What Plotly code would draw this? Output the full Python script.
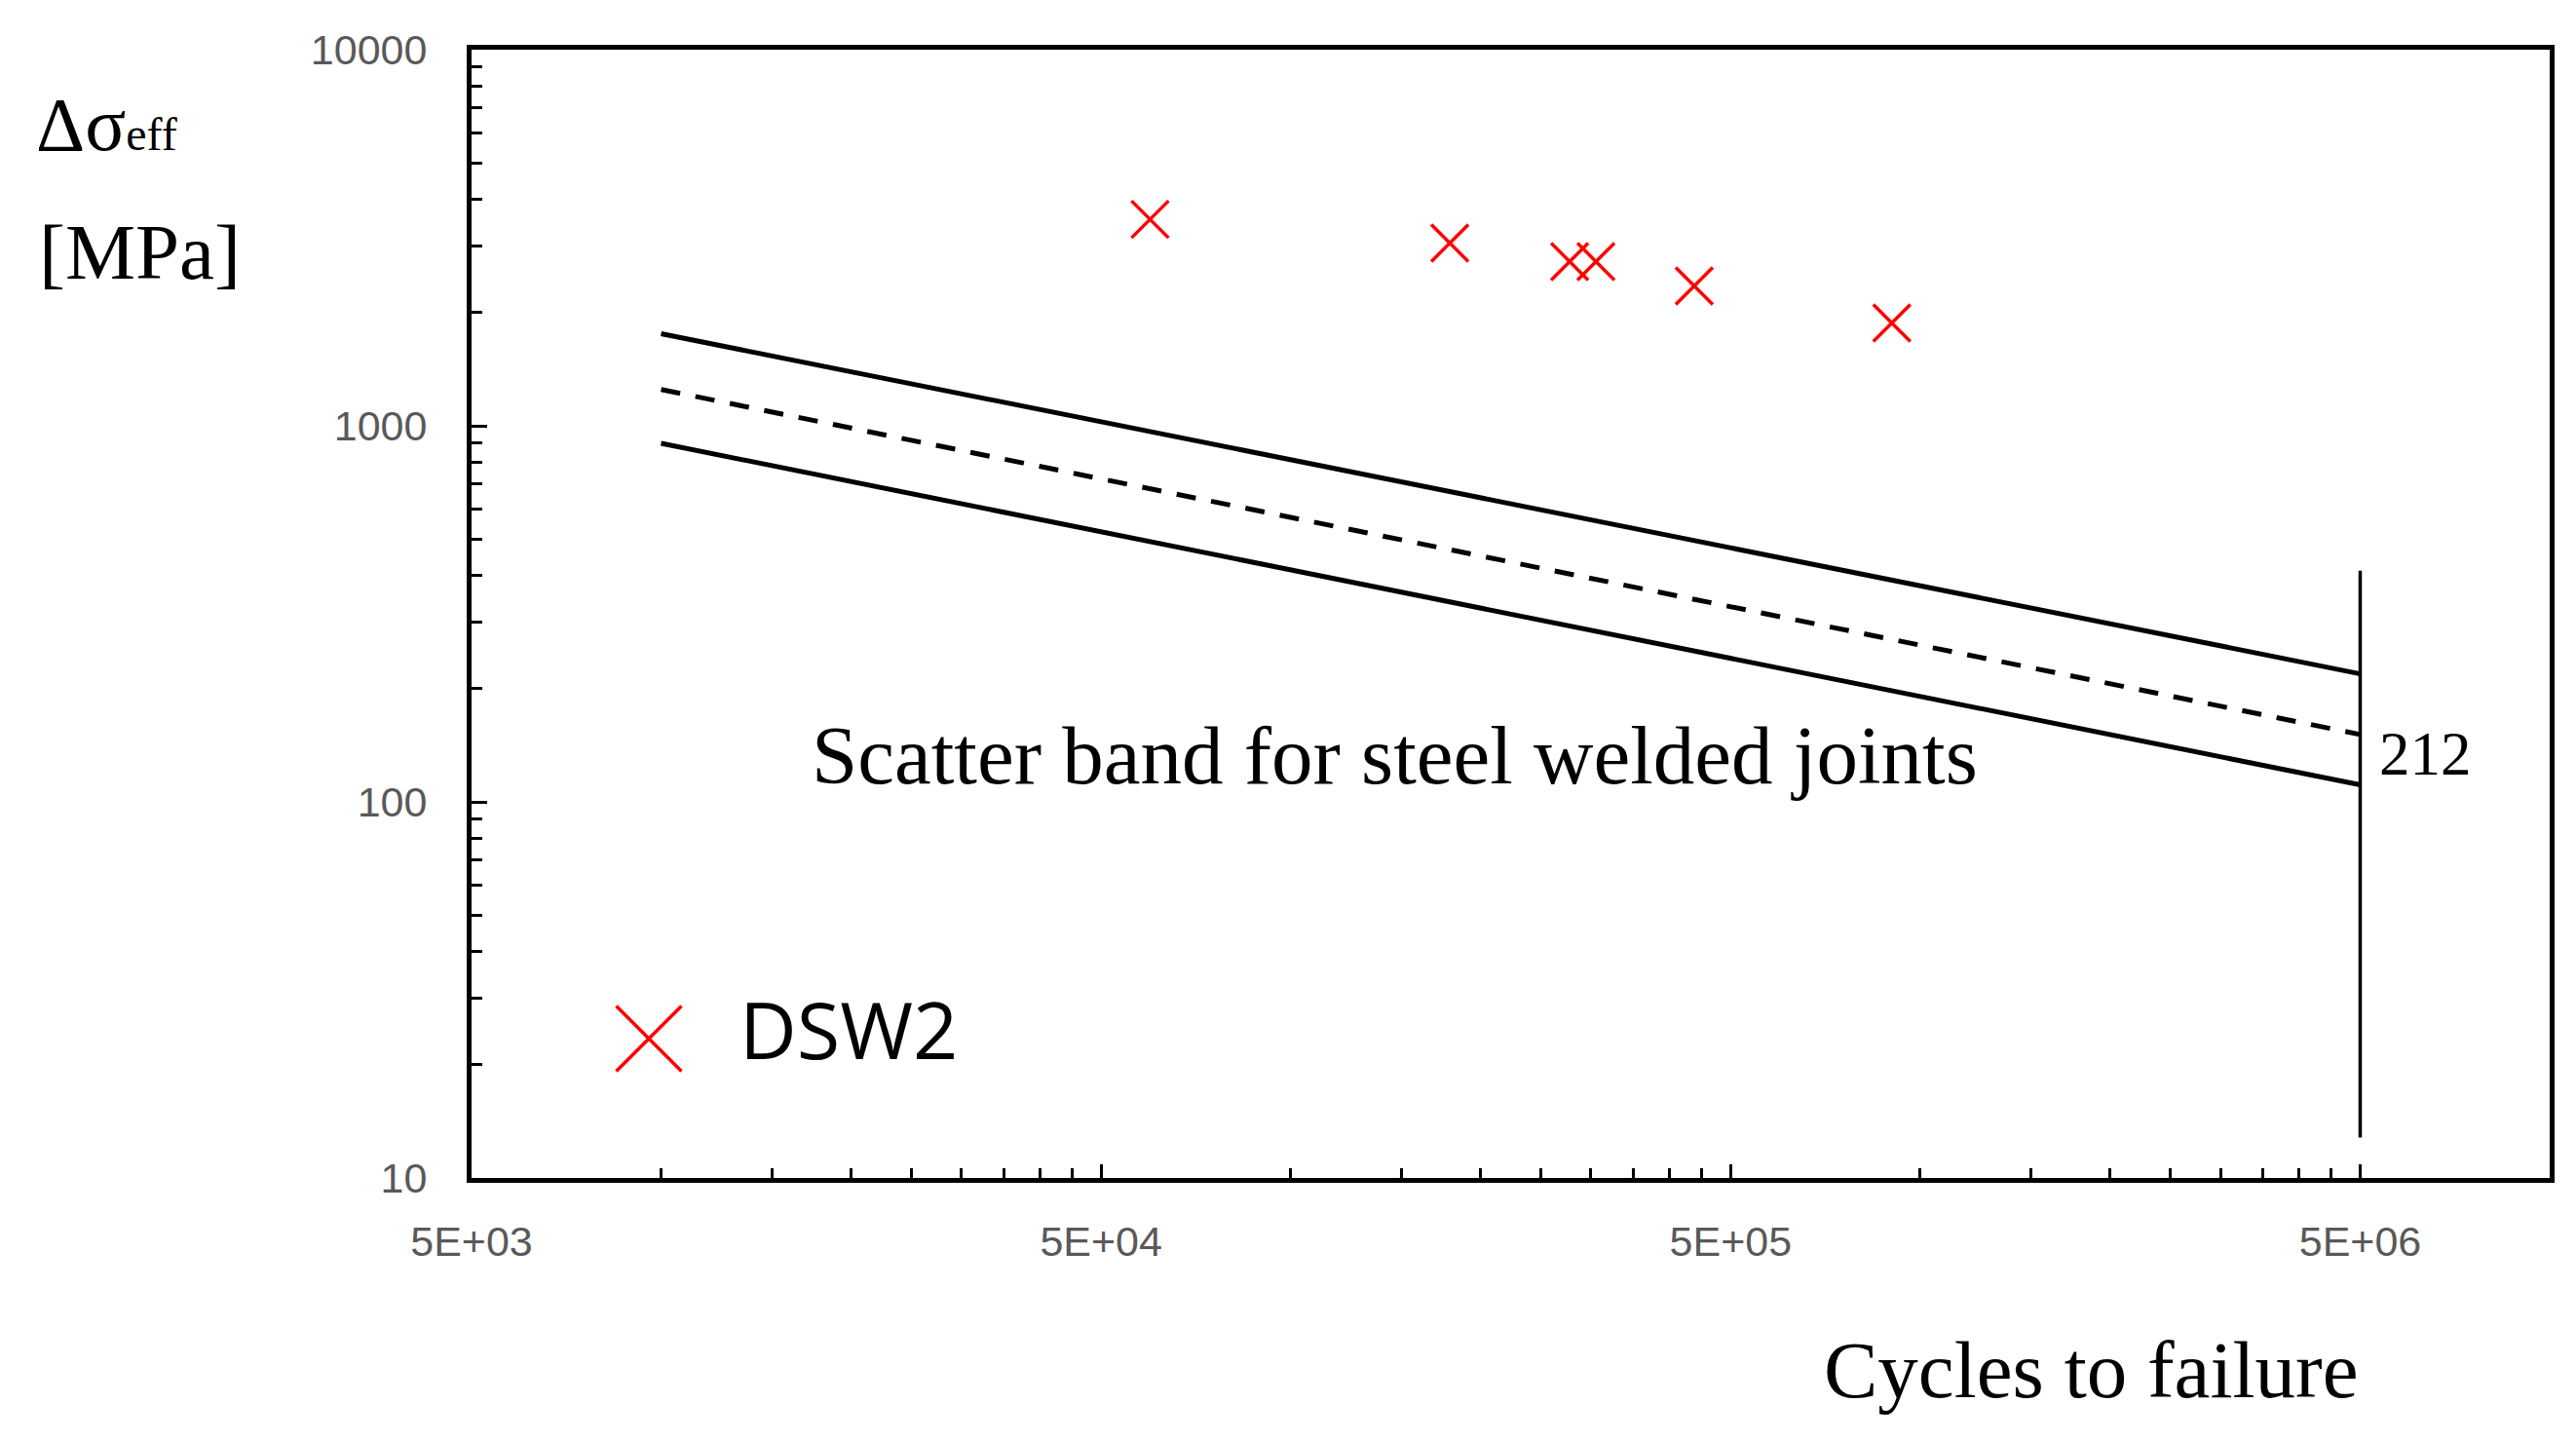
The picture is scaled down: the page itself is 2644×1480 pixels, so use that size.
import plotly.graph_objects as go

# ---- data ----
dsw2_cycles = [59800, 179000, 277500, 305500, 437700, 901600]
dsw2_stress = [3539, 3061, 2733, 2733, 2355, 1877]

band_cycles = [1e4, 5e6]
band_upper = [1757, 219]
band_mean = [1249, 151]
band_lower = [898, 111]

knee_cycles = [5e6, 5e6]
knee_stress = [12.8, 412]

x_tickvals = [5e3, 5e4, 5e5, 5e6]
x_ticktext = ["5E+03", "5E+04", "5E+05", "5E+06"]
y_tickvals = [10, 100, 1000, 10000]
y_ticktext = ["10", "100", "1000", "10000"]

x_minor = [d * k for d in (5e3, 5e4, 5e5) for k in range(2, 10)]
y_minor = [k * 10 ** n for n in (1, 2, 3) for k in range(2, 10)]

OFF = 8  # browser default body margin
W, H = 2644 - OFF, 1480 - OFF
L, R, T, B = 484 - OFF, 27, 51 - OFF, 271

fig = go.Figure()

for ys, dash in ((band_upper, "solid"), (band_mean, "20px,16px"), (band_lower, "solid")):
    fig.add_trace(go.Scatter(x=band_cycles, y=ys, mode="lines",
                             line=dict(color="black", width=5, dash=dash),
                             showlegend=False, hoverinfo="skip"))

fig.add_trace(go.Scatter(x=knee_cycles, y=knee_stress, mode="lines",
                         line=dict(color="black", width=3.5),
                         showlegend=False, hoverinfo="skip"))

fig.add_trace(go.Scatter(x=dsw2_cycles, y=dsw2_stress, mode="markers", name="DSW2",
                         marker=dict(symbol="x-thin", size=38,
                                     line=dict(color="#FF0000", width=3.5), color="#FF0000"),
                         showlegend=False))

tickfont = dict(family="Liberation Sans, Arial, sans-serif", size=43, color="#595959")

fig.update_xaxes(type="log", range=[3.69897, 7.0], showgrid=False, zeroline=False,
                 showline=True, linecolor="black", linewidth=5, mirror=True,
                 tickmode="array", tickvals=x_tickvals, ticktext=x_ticktext,
                 ticks="inside", ticklen=14, tickwidth=3, tickcolor="black",
                 tickfont=tickfont, ticklabelstandoff=23,
                 minor=dict(tickmode="array", tickvals=x_minor, ticks="inside",
                            ticklen=10, tickwidth=3, tickcolor="black", showgrid=False))
fig.update_yaxes(type="log", range=[1.0, 4.0], showgrid=False, zeroline=False,
                 showline=True, linecolor="black", linewidth=5, mirror=True,
                 tickmode="array", tickvals=y_tickvals, ticktext=y_ticktext,
                 ticks="inside", ticklen=16, tickwidth=3, tickcolor="black",
                 tickfont=tickfont, ticklabelstandoff=32,
                 minor=dict(tickmode="array", tickvals=y_minor, ticks="inside",
                            ticklen=11, tickwidth=3, tickcolor="black", showgrid=False))

serif = "Liberation Serif, Times New Roman, serif"
pw = W - L - R
ph = H - T - B

# positions below are page pixels of the reference; convert to paper coords
def px(xpix):
    return (xpix - OFF - L) / pw

def py(ypix):
    return (H - B - (ypix - OFF)) / ph

annotations = [
    dict(text="Δσ<span style='font-size:48px'>eff</span>", x=px(35), y=py(128),
         xanchor="left", yanchor="middle", font=dict(family=serif, size=78, color="black")),
    dict(text="[MPa]", x=px(38), y=py(259), xanchor="left", yanchor="middle",
         font=dict(family=serif, size=81, color="black")),
    dict(text="Scatter band for steel welded joints", x=px(1431), y=py(775),
         xanchor="center", yanchor="middle", font=dict(family=serif, size=85, color="black")),
    dict(text="212", x=px(2440), y=py(774), xanchor="left", yanchor="middle",
         font=dict(family=serif, size=63, color="black")),
    dict(text="Cycles to failure", x=px(2146), y=py(1406), xanchor="center", yanchor="middle",
         font=dict(family=serif, size=83, color="black")),
    dict(text="DSW2", x=px(757), y=py(1055), xanchor="left", yanchor="middle",
         font=dict(family="Open Sans, Noto Sans, sans-serif", size=81, color="black")),
]
for a in annotations:
    a.update(xref="paper", yref="paper", showarrow=False)

# legend key (large red cross)
x0, x1 = px(632.5), px(699.5)
y0, y1 = py(1099.5), py(1032.5)
shapes = [
    dict(type="line", xref="paper", yref="paper", x0=x0, y0=y0, x1=x1, y1=y1,
         line=dict(color="#FF0000", width=3.5)),
    dict(type="line", xref="paper", yref="paper", x0=x0, y0=y1, x1=x1, y1=y0,
         line=dict(color="#FF0000", width=3.5)),
]

fig.update_layout(width=W, height=H, margin=dict(l=L, r=R, t=T, b=B),
                  paper_bgcolor="white", plot_bgcolor="white",
                  annotations=annotations, shapes=shapes, showlegend=False)

fig.write_html("out.html")
